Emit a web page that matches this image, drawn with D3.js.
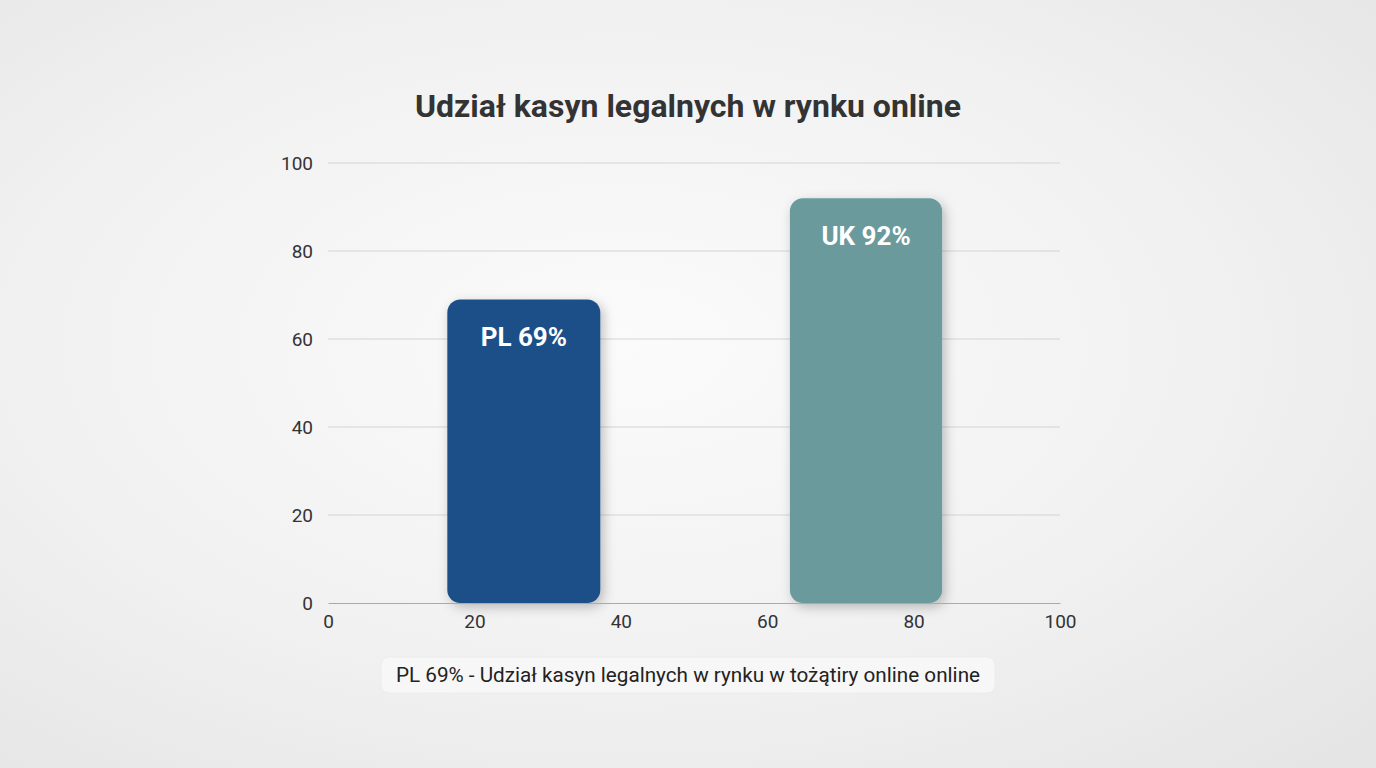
<!DOCTYPE html>
<html>
<head>
<script src="https://cdnjs.cloudflare.com/ajax/libs/d3/7.8.5/d3.min.js"></script>
<style>
  body, html { margin:0; padding:0; }
  body { width:1376px; height:768px; overflow:hidden;
    background: radial-gradient(ellipse at 45% 45%, #fbfbfb 0%, #f1f1f1 55%, #e4e4e4 100%);
    font-family: Roboto, 'Noto Sans', sans-serif; }
</style>
</head>
<body>
<svg id="chart" width="1376" height="768"></svg>
<script>
// data
var labels = ['PL 69%', 'UK 92%'];
var values = [69, 92];
var xStart = [16.3, 63.1];
var xEnd = [37.2, 83.9];
var colors = ['#1f4f87', '#6a9a9c'];
var ticks = [0, 20, 40, 60, 80, 100];
var title = 'Udział kasyn legalnych w rynku online';
var note = 'PL 69% - Udział kasyn legalnych w rynku w tożątiry online online';

var svg = d3.select('#chart');
var x = d3.scaleLinear().domain([0, 100]).range([328, 1060]);
var y = d3.scaleLinear().domain([0, 100]).range([603, 163]);

var defs = svg.append('defs');
var f = defs.append('filter').attr('id', 'shadow').attr('x', '-30%').attr('y', '-20%').attr('width', '160%').attr('height', '140%');
f.append('feDropShadow').attr('dx', 3).attr('dy', 4).attr('stdDeviation', 6).attr('flood-color', '#000').attr('flood-opacity', 0.25);

svg.append('text').attr('x', 688).attr('y', 117).attr('text-anchor', 'middle')
  .attr('font-size', 32).attr('font-weight', 'bold').attr('fill', '#333').text(title);

// gridlines
svg.append('g').selectAll('line').data(ticks.slice(1)).join('line')
  .attr('x1', x(0)).attr('x2', x(100)).attr('y1', d => y(d)).attr('y2', d => y(d))
  .attr('stroke', '#d4d4d4').attr('stroke-width', 1);

var yAxis = svg.append('g').attr('transform', 'translate(' + (x(0) - 12) + ',0)')
  .call(d3.axisLeft(y).tickValues(ticks).tickSize(0));
yAxis.select('.domain').remove();
yAxis.selectAll('text').attr('font-size', 19).attr('fill', '#333').attr('font-family', 'Roboto, sans-serif');

// bars
svg.append('g').selectAll('rect').data(values).join('rect')
  .attr('x', (d, i) => x(xStart[i])).attr('width', (d, i) => x(xEnd[i]) - x(xStart[i]))
  .attr('y', d => y(d)).attr('height', d => y(0) - y(d))
  .attr('rx', 13).attr('fill', (d, i) => colors[i]).attr('filter', 'url(#shadow)');

svg.append('g').selectAll('text').data(values).join('text')
  .attr('x', (d, i) => (x(xStart[i]) + x(xEnd[i])) / 2).attr('y', d => y(d) + 47)
  .attr('text-anchor', 'middle').attr('font-size', 26).attr('font-weight', 'bold').attr('fill', '#fff')
  .text((d, i) => labels[i]);

var xAxis = svg.append('g').attr('transform', 'translate(0,' + y(0) + ')')
  .call(d3.axisBottom(x).tickValues(ticks).tickSize(0).tickPadding(12));
xAxis.select('.domain').attr('stroke', '#aaa');
xAxis.selectAll('text').attr('font-size', 19).attr('fill', '#333').attr('font-family', 'Roboto, sans-serif');

// note
svg.append('rect').attr('x', 381).attr('y', 657).attr('width', 614).attr('height', 36).attr('rx', 8)
  .attr('fill', '#f7f7f7').attr('stroke', '#ececec');
svg.append('text').attr('x', 688).attr('y', 682).attr('text-anchor', 'middle')
  .attr('font-size', 20.7).attr('fill', '#222').text(note);
</script>
</body>
</html>
